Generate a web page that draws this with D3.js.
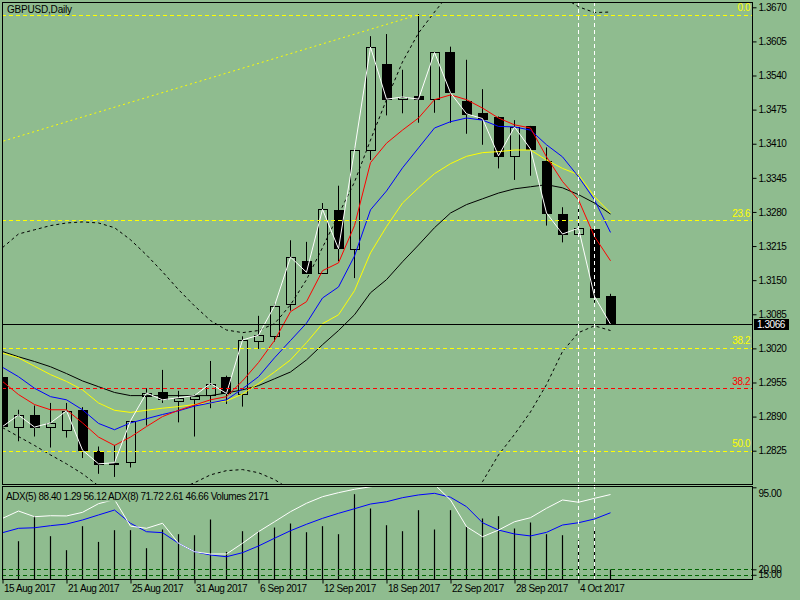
<!DOCTYPE html>
<html>
<head>
  <title>GBPUSD,Daily</title>
  <meta charset="utf8">
  <style type="text/css">
    body { margin: 0; background: #8fbc8f; }
    svg { display: block; }
    text { font-family: "Liberation Sans", Arial, sans-serif; font-size: 10px; letter-spacing: -0.45px; fill: #000; }
  </style>
</head>
<body>

<script src="https://d3js.org/d3.v7.min.js"></script>

<script type="text/javascript">
// daily bars, 15 Aug 2017 .. 6 Oct 2017
var open  = [1.2965, 1.2870, 1.2893, 1.2870, 1.2865, 1.2903, 1.2824, 1.2801, 1.2803, 1.2930, 1.2936, 1.2921, 1.2925, 1.2932, 1.2965, 1.2934, 1.3033, 1.3044, 1.3104, 1.3187, 1.3163, 1.3283, 1.3209, 1.3397, 1.3562, 1.3495, 1.3501, 1.3495, 1.3584, 1.3492, 1.3469, 1.3461, 1.3386, 1.3443, 1.3377, 1.3276, 1.3238, 1.3248, 1.3120];
var high  = [1.2970, 1.2903, 1.2911, 1.2916, 1.2916, 1.2908, 1.2833, 1.2836, 1.2882, 1.2944, 1.2979, 1.2939, 1.2932, 1.2996, 1.2968, 1.3043, 1.3082, 1.3105, 1.3226, 1.3223, 1.3297, 1.3330, 1.3402, 1.3615, 1.3619, 1.3551, 1.3657, 1.3585, 1.3595, 1.3570, 1.3514, 1.3462, 1.3455, 1.3444, 1.3403, 1.3289, 1.3292, 1.3250, 1.3124];
var low   = [1.2861, 1.2843, 1.2852, 1.2831, 1.2850, 1.2811, 1.2781, 1.2775, 1.2793, 1.2873, 1.2916, 1.2879, 1.2852, 1.2906, 1.2914, 1.2909, 1.3019, 1.3033, 1.3092, 1.3164, 1.3162, 1.3186, 1.3154, 1.3379, 1.3464, 1.3468, 1.3450, 1.3469, 1.3450, 1.3429, 1.3408, 1.3363, 1.3341, 1.3349, 1.3254, 1.3222, 1.3234, 1.3107, 1.3066];
var close = [1.2871, 1.2893, 1.2870, 1.2878, 1.2901, 1.2826, 1.2800, 1.2802, 1.2882, 1.2935, 1.2922, 1.2926, 1.2930, 1.2953, 1.2934, 1.3036, 1.3045, 1.3101, 1.3194, 1.3165, 1.3285, 1.3210, 1.3398, 1.3594, 1.3495, 1.3499, 1.3495, 1.3584, 1.3507, 1.3467, 1.3458, 1.3387, 1.3442, 1.3400, 1.3278, 1.3238, 1.3249, 1.3119, 1.3066];

// moving averages
var maRed    = [1.2957, 1.2932, 1.2913, 1.2903, 1.2903, 1.2878, 1.2851, 1.2835, 1.2851, 1.2871, 1.2890, 1.2902, 1.2912, 1.2922, 1.2928, 1.2958, 1.2993, 1.3035, 1.3090, 1.3109, 1.3168, 1.3183, 1.3254, 1.3374, 1.3411, 1.3436, 1.3459, 1.3494, 1.3503, 1.3494, 1.3478, 1.3459, 1.3446, 1.3440, 1.3385, 1.3338, 1.3303, 1.3233, 1.3187];
var maBlue   = [1.2984, 1.2966, 1.2944, 1.2928, 1.2922, 1.2903, 1.2877, 1.2865, 1.2878, 1.2886, 1.2894, 1.2901, 1.2910, 1.2916, 1.2922, 1.2943, 1.2966, 1.3002, 1.3035, 1.3068, 1.3116, 1.3137, 1.3196, 1.3284, 1.3320, 1.3364, 1.3402, 1.3440, 1.3452, 1.3459, 1.3455, 1.3443, 1.3442, 1.3436, 1.3408, 1.3385, 1.3347, 1.3303, 1.3241];
var maYellow = [1.3011, 1.3002, 1.2986, 1.2970, 1.2957, 1.2941, 1.2916, 1.2902, 1.2898, 1.2902, 1.2906, 1.2909, 1.2913, 1.2916, 1.2920, 1.2933, 1.2953, 1.2975, 1.2998, 1.3031, 1.3067, 1.3084, 1.3130, 1.3202, 1.3252, 1.3297, 1.3326, 1.3353, 1.3372, 1.3386, 1.3393, 1.3395, 1.3398, 1.3398, 1.3379, 1.3363, 1.3351, 1.3309, 1.3278];
var maBlack  = [1.3014, 1.3004, 1.2995, 1.2985, 1.2972, 1.2958, 1.2947, 1.2936, 1.2930, 1.2930, 1.2930, 1.2930, 1.2930, 1.2930, 1.2935, 1.2941, 1.2949, 1.2962, 1.2975, 1.2998, 1.3027, 1.3054, 1.3084, 1.3126, 1.3151, 1.3185, 1.3217, 1.3250, 1.3278, 1.3294, 1.3305, 1.3316, 1.3324, 1.3328, 1.3332, 1.3326, 1.3313, 1.3297, 1.3276];

// bands (dashed)
var bandUpper = [1.3212, 1.3238, 1.3246, 1.3254, 1.3259, 1.3261, 1.3259, 1.3250, 1.3227, 1.3198, 1.3166, 1.3132, 1.3101, 1.3073, 1.3055, 1.3050, 1.3054, 1.3067, 1.3103, 1.3151, 1.3212, 1.3275, 1.3337, 1.3417, 1.3494, 1.3566, 1.3621, 1.3661, 1.3699, 1.3726, 1.3745, 1.3752, 1.3749, 1.3737, 1.3718, 1.3690, 1.3671, 1.3660, 1.3661];
var bandLower = [1.2869, 1.2852, 1.2835, 1.2817, 1.2800, 1.2781, 1.2758, 1.2741, 1.2732, 1.2732, 1.2737, 1.2751, 1.2764, 1.2779, 1.2787, 1.2789, 1.2783, 1.2770, 1.2751, 1.2732, 1.2709, 1.2692, 1.2678, 1.2656, 1.2656, 1.2652, 1.2661, 1.2678, 1.2697, 1.2728, 1.2766, 1.2817, 1.2856, 1.2899, 1.2951, 1.3014, 1.3050, 1.3063, 1.3054];

// lower window
var adx5 = [66.6, 73.3, 68.1, 69.0, 68.8, 72.1, 80.0, 83.8, 59.5, 57.5, 62.1, 43.8, 36.1, 34.0, 34.0, 43.8, 54.4, 63.5, 72.7, 80.4, 86.4, 90.1, 93.2, 95.5, 97.3, 98.4, 98.8, 97.6, 83.4, 59.0, 49.8, 55.9, 63.5, 67.2, 75.8, 83.4, 81.3, 84.9, 88.4];
var adx8 = [53.5, 57.5, 58.0, 59.9, 61.4, 65.1, 69.7, 74.2, 62.1, 54.4, 53.5, 43.8, 36.1, 33.1, 31.5, 35.2, 41.3, 48.4, 55.3, 61.2, 66.6, 71.2, 75.4, 79.7, 81.8, 85.5, 88.0, 89.5, 85.9, 77.3, 62.6, 55.9, 52.3, 50.5, 53.8, 60.5, 62.6, 66.0, 71.72];
var volumes = [8700, 8310, 13740, 9400, 6360, 11570, 8160, 10700, 10700, 6790, 10850, 9830, 9610, 13020, 5990, 10480, 10480, 11280, 12150, 10260, 11570, 9830, 18510, 15410, 11780, 10480, 15040, 10850, 15040, 11410, 13240, 13740, 11070, 12370, 9830, 9610, 8530, 11280, 2171];
var adxLevels = [95, 20, 15];

// fibonacci objects
var fibAnchorBars = [-153, 26];
var fibAnchorPrices = [1.1994, 1.3656];
var fibLevels = [0, 23.6, 38.2, 50.0, 61.8];
var redFibLevels = [38.2];
var redFibPrices = [1.2944];
var markerBars = [36, 37];
var lastPrice = 1.3066;

// axes
var priceTicks = [1.3670, 1.3605, 1.3540, 1.3475, 1.3410, 1.3345, 1.3280, 1.3215, 1.3150, 1.3085, 1.3020, 1.2955, 1.2890, 1.2825];
var dateBars = [0, 4, 8, 12, 16, 20, 24, 28, 32, 36];
var dateLabels = ['15 Aug 2017', '21 Aug 2017', '25 Aug 2017', '31 Aug 2017', '6 Sep 2017', '12 Sep 2017', '18 Sep 2017', '22 Sep 2017', '28 Sep 2017', '4 Oct 2017'];

var width = 800, height = 600;
var left = 2, right = 752, mainTop = 2, mainBottom = 484, subTop = 486, subBottom = 579;

var svg = d3.select('body').append('svg')
    .attr('width', width)
    .attr('height', height);

svg.append('rect')
  .attr('width', width)
  .attr('height', height)
  .attr('fill', '#8fbc8f');

var x = d3.scaleLinear().domain([0, 38]).range([2.5, 610.5]);
var y = d3.scaleLinear().domain([1.2825, 1.3670]).range([450.7, 7.3]);
var adxY = d3.scaleLinear().domain([20, 95]).range([569.3, 487.3]);
var volY = d3.scaleLinear().domain([0, 21700]).range([579.5, 479.5]);

var defs = svg.append('defs');
defs.append('clipPath').attr('id', 'clipMain')
  .append('rect').attr('x', left).attr('y', mainTop).attr('width', right - left).attr('height', mainBottom - mainTop);
defs.append('clipPath').attr('id', 'clipSub')
  .append('rect').attr('x', left).attr('y', subTop).attr('width', right - left).attr('height', subBottom - subTop);

var main = svg.append('g').attr('clip-path', 'url(#clipMain)');
var sub = svg.append('g').attr('clip-path', 'url(#clipSub)');

var bars = d3.range(close.length);

// candles
var candle = main.append('g').attr('class', 'candles')
  .selectAll('g').data(bars).enter().append('g');

candle.append('line')
  .attr('x1', function(i) { return x(i) })
  .attr('x2', function(i) { return x(i) })
  .attr('y1', function(i) { return y(high[i]) })
  .attr('y2', function(i) { return y(low[i]) })
  .attr('stroke', '#000')
  .attr('stroke-width', 1);

candle.append('rect')
  .attr('x', function(i) { return Math.round(x(i)) - 4.5 })
  .attr('y', function(i) { return Math.round(y(Math.max(open[i], close[i]))) + 0.5 })
  .attr('width', 9)
  .attr('height', function(i) { return Math.max(1, Math.round(Math.abs(y(open[i]) - y(close[i])))) })
  .attr('fill', function(i) { return close[i] < open[i] ? '#000' : '#8fbc8f' })
  .attr('stroke', '#000')
  .attr('stroke-width', 1)
  .attr('shape-rendering', 'crispEdges');

var line = d3.line()
  .x(function(d, i) { return x(i) })
  .y(function(d) { return y(d) });

[[maBlack, '#000'], [maYellow, '#ffff00'], [maBlue, '#0000ff'], [maRed, '#ff0000']].forEach(function(s) {
  main.append('path')
    .datum(s[0])
    .attr('d', line)
    .attr('fill', 'none')
    .attr('stroke', s[1])
    .attr('stroke-width', 1);
});

[bandUpper, bandLower].forEach(function(b) {
  main.append('path')
    .datum(b)
    .attr('d', line)
    .attr('fill', 'none')
    .attr('stroke', '#000')
    .attr('stroke-width', 1)
    .attr('stroke-dasharray', '3,3');
});

main.append('path')
  .datum(close)
  .attr('d', line)
  .attr('fill', 'none')
  .attr('stroke', '#fff')
  .attr('stroke-width', 1);

// fibonacci
var fibRange = fibAnchorPrices[1] - fibAnchorPrices[0];
var fibPrice = function(l) { return fibAnchorPrices[1] - fibRange * l / 100 };

main.append('line')
  .attr('x1', x(fibAnchorBars[0]))
  .attr('y1', y(fibAnchorPrices[0]))
  .attr('x2', x(fibAnchorBars[1]))
  .attr('y2', y(fibAnchorPrices[1]))
  .attr('stroke', '#ffff00')
  .attr('stroke-dasharray', '2,3');

main.selectAll('.fib').data(fibLevels).enter().append('line')
  .attr('class', 'fib')
  .attr('x1', left).attr('x2', right)
  .attr('y1', function(d) { return Math.round(y(fibPrice(d))) + 0.5 })
  .attr('y2', function(d) { return Math.round(y(fibPrice(d))) + 0.5 })
  .attr('stroke', '#ffff00')
  .attr('stroke-dasharray', '4,3');

main.selectAll('.fibLabel').data(fibLevels).enter().append('text')
  .attr('class', 'fibLabel')
  .attr('x', 750)
  .attr('y', function(d) { return y(fibPrice(d)) - 3.3 })
  .attr('text-anchor', 'end')
  .style('fill', '#ffff00')
  .text(function(d) { return d.toFixed(1) });

main.selectAll('.redFib').data(redFibPrices).enter().append('line')
  .attr('class', 'redFib')
  .attr('x1', left).attr('x2', right)
  .attr('y1', function(d) { return Math.round(y(d)) + 0.5 })
  .attr('y2', function(d) { return Math.round(y(d)) + 0.5 })
  .attr('stroke', '#ff0000')
  .attr('stroke-dasharray', '4,3');

main.selectAll('.redFibLabel').data(redFibPrices).enter().append('text')
  .attr('class', 'redFibLabel')
  .attr('x', 750)
  .attr('y', function(d) { return y(d) - 3.3 })
  .attr('text-anchor', 'end')
  .style('fill', '#ff0000')
  .text(function(d, i) { return redFibLevels[i].toFixed(1) });

// current price line
main.append('line')
  .attr('x1', left).attr('x2', right)
  .attr('y1', Math.round(y(lastPrice)) + 0.5)
  .attr('y2', Math.round(y(lastPrice)) + 0.5)
  .attr('stroke', '#000');

// lower window: volumes + adx
sub.selectAll('.vol').data(volumes).enter().append('line')
  .attr('class', 'vol')
  .attr('x1', function(d, i) { return x(i) })
  .attr('x2', function(d, i) { return x(i) })
  .attr('y1', volY(0))
  .attr('y2', function(d) { return volY(d) })
  .attr('stroke', '#000')
  .attr('stroke-width', 1.2);

sub.selectAll('.lvl').data([20, 15]).enter().append('line')
  .attr('class', 'lvl')
  .attr('x1', left).attr('x2', right)
  .attr('y1', function(d) { return Math.round(adxY(d)) + 0.5 })
  .attr('y2', function(d) { return Math.round(adxY(d)) + 0.5 })
  .attr('stroke', '#006400')
  .attr('stroke-dasharray', '4,3');

var adxLine = d3.line()
  .x(function(d, i) { return x(i) })
  .y(function(d) { return adxY(d) });

sub.append('path').datum(adx8).attr('d', adxLine)
  .attr('fill', 'none').attr('stroke', '#0000ff');
sub.append('path').datum(adx5).attr('d', adxLine)
  .attr('fill', 'none').attr('stroke', '#fff');

var subLabel = sub.append('g');
var subText = subLabel.append('text')
  .attr('x', 6)
  .attr('y', 499.5)
  .text('ADX(5) ' + adx5[38].toFixed(2) + ' 1.29 56.12 ADX(8) ' + adx8[38].toFixed(2) + ' 2.61 46.66 Volumes ' + volumes[38]);
var bb = subText.node().getBBox();
subLabel.insert('rect', 'text')
  .attr('x', bb.x - 1).attr('y', bb.y + 1)
  .attr('width', bb.width + 2).attr('height', bb.height - 1)
  .attr('fill', '#8fbc8f');

// vertical markers
svg.selectAll('.marker').data(markerBars).enter().append('line')
  .attr('class', 'marker')
  .attr('x1', function(d) { return x(d) })
  .attr('x2', function(d) { return x(d) })
  .attr('y1', mainTop)
  .attr('y2', subBottom)
  .attr('stroke', '#fff')
  .attr('stroke-dasharray', '4,3');

// frames
[[mainTop, mainBottom], [subTop, subBottom]].forEach(function(p) {
  svg.append('rect')
    .attr('x', left + 0.5).attr('y', p[0] + 0.5)
    .attr('width', right - left).attr('height', p[1] - p[0])
    .attr('fill', 'none')
    .attr('stroke', '#000');
});

svg.append('text')
  .attr('x', 7)
  .attr('y', 13)
  .style('letter-spacing', '-0.2px')
  .text('GBPUSD,Daily');

// price axis
var priceAxis = svg.append('g')
  .attr('transform', 'translate(' + (right + 0.5) + ',0)')
  .call(d3.axisRight(y).tickValues(priceTicks).tickSize(4).tickSizeOuter(0).tickPadding(2).tickFormat(d3.format('.4f')));
priceAxis.select('.domain').remove();

var py = Math.round(y(lastPrice));
svg.append('rect')
  .attr('x', 754).attr('y', py - 5)
  .attr('width', 35).attr('height', 11)
  .attr('fill', '#000');
svg.append('text')
  .attr('x', 757).attr('y', py + 4)
  .style('fill', '#fff')
  .text(d3.format('.4f')(lastPrice));

// adx axis
var adxAxis = svg.append('g')
  .attr('transform', 'translate(' + (right + 0.5) + ',0)')
  .call(d3.axisRight(adxY).tickValues(adxLevels).tickSize(4).tickSizeOuter(0).tickPadding(2).tickFormat(d3.format('.2f')));
adxAxis.select('.domain').remove();
adxAxis.selectAll('text')
  .attr('dy', function(d) { return d === 95 ? '0.9em' : '0.32em' });

// date axis
var dateAxis = svg.append('g')
  .attr('transform', 'translate(0,' + (subBottom + 0.5) + ')')
  .call(d3.axisBottom(x).tickValues(dateBars).tickSize(4).tickSizeOuter(0).tickPadding(1)
    .tickFormat(function(d, i) { return dateLabels[i] }));
dateAxis.select('.domain').remove();
dateAxis.selectAll('text')
  .attr('text-anchor', 'start')
  .attr('x', 1);

</script>

</body>
</html>
